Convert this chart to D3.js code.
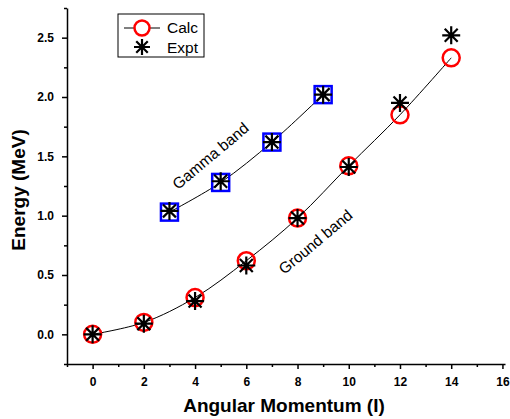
<!DOCTYPE html>
<html>
<head>
    <title>energy levels</title>
    <script src="https://d3js.org/d3.v7.min.js"></script>
    <style>
        body { margin: 0; background: #fff; }
        text { font-family: "Liberation Sans", Arial, sans-serif; }
    </style>
</head>
<body>
    <svg width="510" height="419" id="mainsvg"></svg>
    <script>
        // ground band
        const groundSpin = [0, 2, 4, 6, 8, 10, 12, 14];
        const groundCalc = [0, 0.10, 0.31, 0.62, 0.98, 1.42, 1.85, 2.33];
        const groundExpt = [0, 0.09, 0.28, 0.58, 0.98, 1.41, 1.95, 2.52];
        // gamma band
        const gammaSpin = [3, 5, 7, 9];
        const gammaCalc = [1.03, 1.28, 1.62, 2.02];
        const gammaExpt = [1.04, 1.29, 1.62, 2.02];

        const xTicks = [0, 2, 4, 6, 8, 10, 12, 14, 16];
        const yTicks = [0, 0.5, 1.0, 1.5, 2.0, 2.5];

        const svg = d3.select('#mainsvg');
        const x = d3.scaleLinear().domain([-1, 16.1]).range([67, 505]);
        const y = d3.scaleLinear().domain([-0.25, 2.75]).range([364, 8]);

        // axes
        svg.append('g').attr('transform', `translate(0,${y(-0.25)})`)
            .call(d3.axisBottom(x).tickValues(xTicks).tickFormat(d3.format('d')).tickSize(5).tickPadding(8).tickSizeOuter(0));
        svg.append('g').attr('transform', `translate(0,${y(-0.25)})`)
            .call(d3.axisBottom(x).tickValues(d3.range(-1, 16, 2)).tickFormat('').tickSize(3).tickSizeOuter(0))
            .select('.domain').remove();
        svg.append('g').attr('transform', `translate(${x(-1)},0)`)
            .call(d3.axisLeft(y).tickValues(yTicks).tickFormat(d3.format('.1f')).tickSize(5).tickPadding(8).tickSizeOuter(0));
        svg.append('g').attr('transform', `translate(${x(-1)},0)`)
            .call(d3.axisLeft(y).tickValues(d3.range(-0.25, 2.8, 0.5)).tickFormat('').tickSize(3).tickSizeOuter(0))
            .select('.domain').remove();
        svg.selectAll('.domain, .tick line').attr('stroke', '#000').attr('stroke-width', 1.5);
        svg.selectAll('.tick text').attr('font-size', 12).attr('font-weight', 'bold')
            .attr('font-family', '"Liberation Sans", Arial, sans-serif').attr('fill', '#000');

        svg.append('text').attr('x', 284).attr('y', 412).attr('text-anchor', 'middle')
            .attr('font-size', 19).attr('font-weight', 'bold').text('Angular Momentum (I)');
        svg.append('text').attr('transform', 'translate(25,190) rotate(-90)').attr('text-anchor', 'middle')
            .attr('font-size', 19).attr('font-weight', 'bold').text('Energy (MeV)');

        const line = d3.line().x(d => x(d[0])).y(d => y(d[1])).curve(d3.curveCatmullRom);
        svg.append('path').datum(d3.zip(groundSpin, groundCalc)).attr('d', line)
            .attr('fill', 'none').attr('stroke', '#000').attr('stroke-width', 1);
        svg.append('path').datum(d3.zip(gammaSpin, gammaCalc)).attr('d', line)
            .attr('fill', 'none').attr('stroke', '#000').attr('stroke-width', 1);

        const star = function (sel, r) {
            sel.append('path')
                .attr('d', `M${-r},0H${r}M0,${-r}V${r}M${-r * 0.72},${-r * 0.72}L${r * 0.72},${r * 0.72}M${-r * 0.72},${r * 0.72}L${r * 0.72},${-r * 0.72}`)
                .attr('stroke', '#000').attr('stroke-width', 2.2).attr('fill', 'none');
        };

        svg.append('g').selectAll('circle').data(d3.zip(groundSpin, groundCalc)).join('circle')
            .attr('cx', d => x(d[0])).attr('cy', d => y(d[1])).attr('r', 8.5)
            .attr('fill', 'none').attr('stroke', '#ff0000').attr('stroke-width', 2.5);
        svg.append('g').selectAll('rect').data(d3.zip(gammaSpin, gammaCalc)).join('rect')
            .attr('x', d => x(d[0]) - 8.5).attr('y', d => y(d[1]) - 8.5).attr('width', 17).attr('height', 17)
            .attr('fill', 'none').attr('stroke', '#0000ff').attr('stroke-width', 2.5);
        svg.append('g').selectAll('g').data(d3.zip(groundSpin, groundExpt).concat(d3.zip(gammaSpin, gammaExpt))).join('g')
            .attr('transform', d => `translate(${x(d[0])},${y(d[1])})`)
            .call(star, 9);

        // band labels
        svg.append('text').attr('transform', 'translate(214,160) rotate(-40)').attr('text-anchor', 'middle')
            .attr('font-size', 15.5).text('Gamma band');
        svg.append('text').attr('transform', 'translate(319,246) rotate(-40)').attr('text-anchor', 'middle')
            .attr('font-size', 15.5).text('Ground band');

        // legend
        const lg = svg.append('g');
        lg.append('rect').attr('x', 118).attr('y', 14).attr('width', 86).attr('height', 43)
            .attr('fill', 'none').attr('stroke', '#000').attr('stroke-width', 1);
        lg.append('line').attr('x1', 124).attr('x2', 160).attr('y1', 28).attr('y2', 28).attr('stroke', '#000');
        lg.append('circle').attr('cx', 142).attr('cy', 28).attr('r', 7.5)
            .attr('fill', '#fff').attr('stroke', '#ff0000').attr('stroke-width', 2.5);
        lg.append('g').attr('transform', 'translate(142,47)').call(star, 8);
        lg.append('text').attr('x', 167).attr('y', 33).attr('font-size', 15.5).text('Calc');
        lg.append('text').attr('x', 167).attr('y', 53).attr('font-size', 15.5).text('Expt');
    </script>
</body>
</html>
